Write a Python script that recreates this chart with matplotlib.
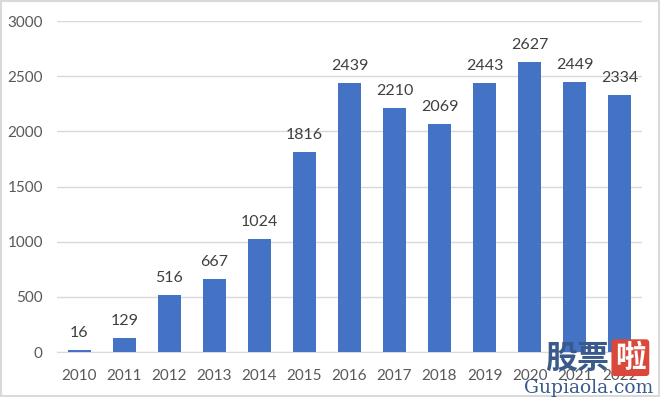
import matplotlib.pyplot as plt
from matplotlib.patches import Rectangle

# data
years = ['2010', '2011', '2012', '2013', '2014', '2015', '2016',
         '2017', '2018', '2019', '2020', '2021', '2022']
counts = [16, 129, 516, 667, 1024, 1816, 2439, 2210, 2069, 2443, 2627, 2449, 2334]
yticks = [0, 500, 1000, 1500, 2000, 2500, 3000]

plt.rcParams['font.family'] = ['Lato', 'Noto Sans CJK SC', 'DejaVu Sans']

fig = plt.figure(figsize=(6.6, 3.97), dpi=100)
ax = fig.add_axes([0.086, 0.113, 0.887, 0.834])

x = range(len(years))
bars = ax.bar(x, counts, width=0.5, color='#4472C4', zorder=3)
for xi, v in zip(x, counts):
    ax.text(xi, v + 90, str(v), ha='center', va='bottom',
            fontsize=11.5, color='#404040')

ax.set_ylim(0, 3000)
ax.set_xlim(-0.5, len(years) - 0.5)
ax.set_yticks(yticks)
ax.set_xticks(list(x))
ax.set_xticklabels(years)
ax.grid(axis='y', color='#D9D9D9', linewidth=1, zorder=0)
for s in ['top', 'right', 'left']:
    ax.spines[s].set_visible(False)
ax.spines['bottom'].set_color('#D9D9D9')
ax.tick_params(length=0, labelsize=11, colors='#595959')
ax.tick_params(axis='x', pad=12)
ax.tick_params(axis='y', pad=10)

# light border round the whole figure
fig.patches.append(Rectangle((0.002, 0.003), 0.996, 0.994, transform=fig.transFigure,
                             fill=False, edgecolor='#D9D9D9', linewidth=1.5))

# site watermark, bottom right (it covers the last x labels, as in the source)
fig.text(0.923, 0.06, '股票', fontsize=23, color='#3A5A8C', weight='bold',
         ha='right', va='bottom', zorder=10)
fig.text(0.932, 0.062, '啦', fontsize=22, color='white', weight='bold',
         ha='left', va='bottom', zorder=10,
         bbox=dict(boxstyle='round,pad=0.12', fc='#D9483B', ec='none'))
fig.text(0.99, 0.0, 'Gupiaola.com', fontsize=13.5, color='#3A5A8C',
         family='DejaVu Serif', ha='right', va='bottom', zorder=10)

fig.savefig('out.png', dpi=100)
